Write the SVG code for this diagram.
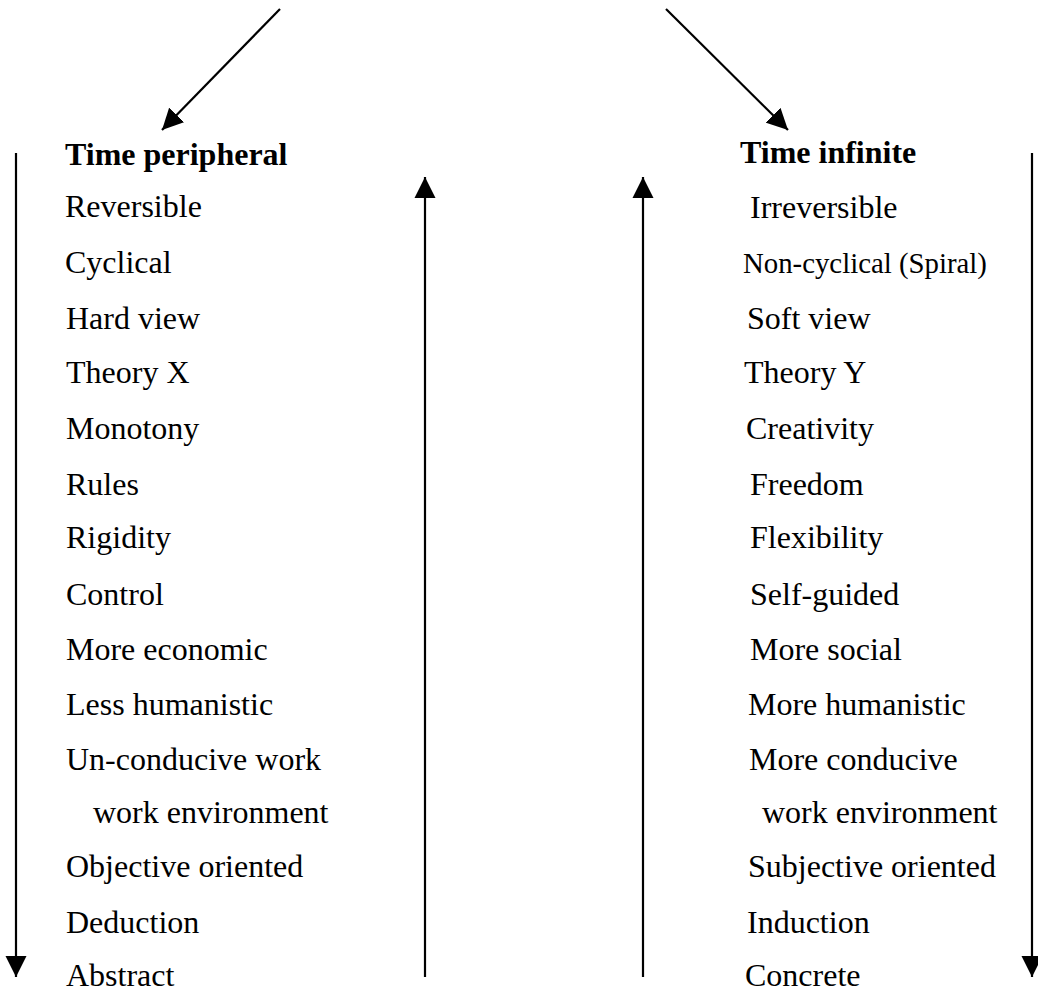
<svg xmlns="http://www.w3.org/2000/svg" width="1038" height="993" viewBox="0 0 1038 993">
<style>
text{font-family:"Liberation Serif","Times New Roman",serif;font-size:32px;fill:#000}
.h{font-weight:bold}
.s{font-size:28.8px}
.c{stroke:#000;stroke-width:2.2;fill:none}
</style>
<defs>
<marker id="ah" markerUnits="userSpaceOnUse" markerWidth="22" markerHeight="22" refX="21" refY="10.5" orient="auto" viewBox="0 0 22 21">
<path d="M0,0 L21,10.5 L0,21 z" fill="#000"/>
</marker>
</defs>
<rect width="1038" height="993" fill="#fff"/>
<g id="connectors">
<line class="c" x1="280" y1="9" x2="162" y2="130" marker-end="url(#ah)"/>
<line class="c" x1="666" y1="9" x2="788" y2="130" marker-end="url(#ah)"/>
<line class="c" x1="16" y1="153" x2="16" y2="977" marker-end="url(#ah)"/>
<line class="c" x1="425" y1="977" x2="425" y2="177" marker-end="url(#ah)"/>
<line class="c" x1="643" y1="977" x2="643" y2="177" marker-end="url(#ah)"/>
<line class="c" x1="1032" y1="153" x2="1032" y2="977" marker-end="url(#ah)"/>
</g>
<g id="left-column">
<text class="h" x="65" y="165">Time peripheral</text>
<text x="65" y="217">Reversible</text>
<text x="65" y="273">Cyclical</text>
<text x="66" y="329">Hard view</text>
<text x="66" y="383">Theory X</text>
<text x="66" y="439">Monotony</text>
<text x="66" y="495">Rules</text>
<text x="66" y="548">Rigidity</text>
<text x="66" y="605">Control</text>
<text x="66" y="660">More economic</text>
<text x="66" y="715">Less humanistic</text>
<text x="66" y="770">Un-conducive work</text>
<text x="93" y="823">work environment</text>
<text x="66" y="877">Objective oriented</text>
<text x="66" y="933">Deduction</text>
<text x="66" y="986">Abstract</text>
</g>
<g id="right-column">
<text class="h" x="740" y="163">Time infinite</text>
<text x="750" y="218">Irreversible</text>
<text class="s" x="743" y="273">Non-cyclical (Spiral)</text>
<text x="747" y="329">Soft view</text>
<text x="744" y="383">Theory Y</text>
<text x="746" y="439">Creativity</text>
<text x="750" y="495">Freedom</text>
<text x="750" y="548">Flexibility</text>
<text x="750" y="605">Self-guided</text>
<text x="750" y="660">More social</text>
<text x="748" y="715">More humanistic</text>
<text x="749" y="770">More conducive</text>
<text x="762" y="823">work environment</text>
<text x="748" y="877">Subjective oriented</text>
<text x="747" y="933">Induction</text>
<text x="745" y="986">Concrete</text>
</g>
</svg>
